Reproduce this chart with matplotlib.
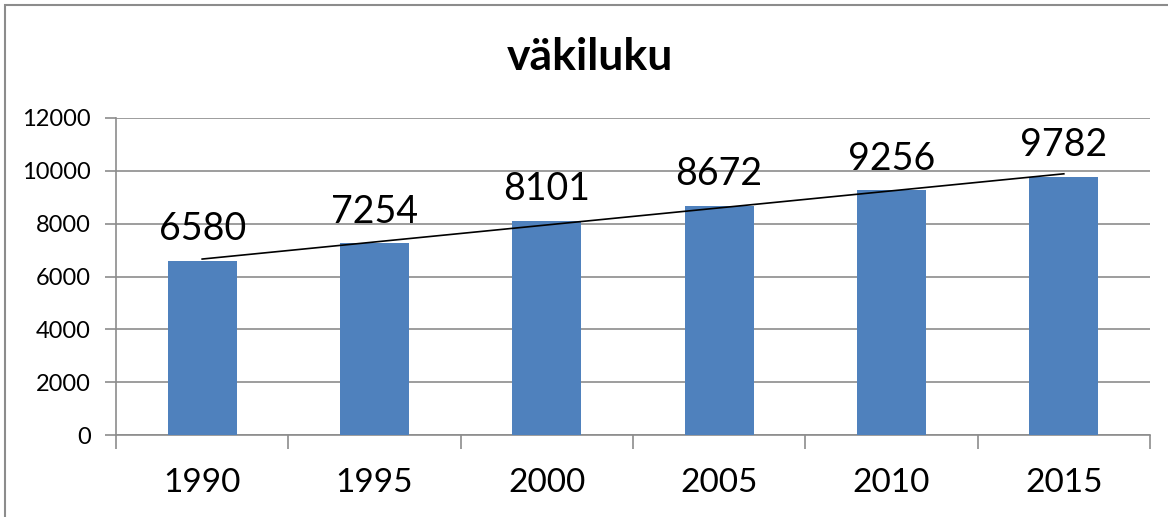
import numpy as np
import matplotlib
matplotlib.use("Agg")
import matplotlib.pyplot as plt
from matplotlib.patches import Rectangle

# Data
years = ["1990", "1995", "2000", "2005", "2010", "2015"]
population = [6580, 7254, 8101, 8672, 9256, 9782]
y_ticks = [0, 2000, 4000, 6000, 8000, 10000, 12000]

plt.rcParams['font.family'] = ['Lato', 'DejaVu Sans']

fig = plt.figure(figsize=(11.68, 5.17), dpi=100)
ax = fig.add_axes([116 / 1168, 1 - 435 / 517, (1150 - 116) / 1168, (435 - 118) / 517])

x = np.arange(len(years))
ax.bar(x, population, width=0.4, color="#4F81BD", zorder=3)

# linear trend line
k, b = np.polyfit(x, population, 1)
ax.plot(x, k * x + b, color="black", lw=1.2, zorder=4)

for xi, v in zip(x, population):
    ax.text(xi, v + 520, str(v), ha="center", va="bottom", fontsize=27, zorder=5)

ax.set_xlim(-0.5, len(years) - 0.5)
ax.set_ylim(0, 12000)
ax.set_yticks(y_ticks)
ax.set_yticklabels([str(t) for t in y_ticks], fontsize=17)
ax.yaxis.grid(True, color="#8c8c8c", lw=1.2, zorder=0)

# category labels between the boundary ticks
ax.set_xticks(np.arange(-0.5, len(years), 1))
ax.set_xticklabels([])
ax.set_xticks(x, minor=True)
ax.set_xticklabels(years, minor=True, fontsize=24)
ax.tick_params(axis="x", which="minor", length=0, pad=24)
ax.tick_params(axis="x", which="major", length=10, width=1.2, color="#8c8c8c", direction="out")
ax.tick_params(axis="y", length=8, width=1.2, color="#8c8c8c", pad=10)

for s in ["top", "right"]:
    ax.spines[s].set_visible(False)
ax.spines["left"].set_color("#8c8c8c")
ax.spines["bottom"].set_color("#8c8c8c")
ax.spines["left"].set_linewidth(1.2)
ax.spines["bottom"].set_linewidth(1.2)

fig.text(590 / 1168, 1 - 57 / 517, "väkiluku", ha="center", va="center",
         fontsize=32, fontweight="bold")

# chart border
fig.patches.append(Rectangle((5 / 1168, -0.1), 1.2, 1.1 - 5 / 517, transform=fig.transFigure,
                             fill=False, edgecolor="#8c8c8c", lw=1.5))

fig.savefig("out.png", dpi=100)
